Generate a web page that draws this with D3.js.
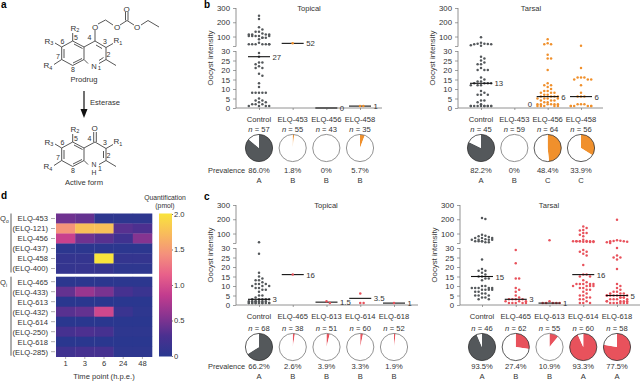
<!DOCTYPE html>
<html>
<head>
<meta charset='utf-8' />
<title>Prodrug oocyst panels</title>
<script src="https://d3js.org/d3.v7.min.js"></script>
<style>
body { margin:0; padding:0; background:#fff; }
svg { display:block; font-family:'Liberation Sans', Arial, sans-serif; opacity:0.999; }
text { fill:#333; }
</style>
</head>
<body>
<svg id="chart" width="640" height="382"></svg>
<script>

// dot values
var bTopControl = [246,223,165,150,134,134,122,115,115,115,115,104,104,104,104,104,92,92,92,80,57,45,45,45,45,45,45,45,29,27,24,24,23,22,21,21,18,17,13,11,8,8,8,8,8,5,4,4,3,3,2,2,2,1,1,1,1];
var bTop453 = [52];
var bTop456 = [];
var bTop458 = [1,1];
var bTarControl = [94,57,50,50,48,45,45,38,35,27,26,25,24,23,23,21,20,20,20,16,15,14,14,13,13,13,13,12,12,12,9,8,7,7,7,4,4,3,2,1,1,1,1,1,1,1,1,1,1,1];
var bTar453 = [];
var bTar456 = [80,52,45,45,28,26,26,20,13,12,12,11,10,9,9,8,8,8,7,7,6,6,6,6,5,5,5,5,4,4,4,3,3,2,2,2,2,2,2,1,1,1,1,1];
var bTar458 = [35,21,16,16,16,15,15,15,12,8,6,6,6,2,2,2,1,1,1,1,1,1];
var cTopControl = [38,27,17,15,14,13,13,12,11,11,11,10,10,10,9,9,8,8,7,5,5,4,3,3,3,3,3,2,2,2,2,2,2,2,1,1,1,1,1,1,1,1,1,1,1,1,1];
var cTop465 = [16];
var cTop613 = [2,1];
var cTop614 = [6,1,1];
var cTop618 = [1];
var cTarControl = [209,202,92,85,80,75,68,68,68,60,57,57,57,57,45,45,45,45,38,38,24,19,18,18,17,16,15,15,14,14,13,10,10,9,9,9,9,9,8,8,8,8,7,7,6,6,5,5,5,4,4,3,3];
var cTar465 = [29,22,14,14,9,8,7,5,4,3,3,3,3,2,2,2,1,1,1,1,1];
var cTar613 = [52,2,1,1,1,1,1];
var cTar614 = [150,138,125,122,103,103,92,80,57,48,45,45,45,45,45,45,45,42,42,40,40,29,28,28,27,26,21,16,16,15,15,13,12,11,11,11,11,11,10,10,10,10,9,9,8,8,7,6,5,5,4,4,3,3,2,1,1,1];
var cTar618 = [196,52,50,48,45,45,42,38,34,30,26,25,25,24,19,11,10,9,8,7,7,6,6,6,5,5,5,5,5,5,4,4,4,4,3,3,3,3,2,2,2,2,2,1,1,1,1,1,1];

var yTicks = [0,5,10,15,20,25,30,100,200,300];

var bCats = ['Control','ELQ-453','ELQ-456','ELQ-458'];
var cTopCats = ['Control','ELQ-465','ELQ-613','ELQ-614','ELQ-618'];

var bTopMedians = [27,52,0,1];
var bTarMedians = [13,null,6,6];
var cTopMedians = [3,16,1.5,3.5,1];
var cTarMedians = [15,3,1,16,5];

var bTopN = [57,55,43,35];
var bTarN = [45,59,64,56];
var cTopN = [68,38,51,60,52];
var cTarN = [46,62,55,60,58];

var bTopPrev = [86.0,1.8,0,5.7];
var bTarPrev = [82.2,0,48.4,33.9];
var cTopPrev = [66.2,2.6,3.9,3.3,1.9];
var cTarPrev = [93.5,27.4,10.9,93.3,77.5];

var bTopPrevText = ['86.0%','1.8%','0%','5.7%'];
var bTarPrevText = ['82.2%','0%','48.4%','33.9%'];
var cTopPrevText = ['66.2%','2.6%','3.9%','3.3%','1.9%'];
var cTarPrevText = ['93.5%','27.4%','10.9%','93.3%','77.5%'];

var bTopLetters = ['A','B','B','B'];
var bTarLetters = ['A','B','C','C'];
var cTopLetters = ['A','B','B','B','B'];
var cTarLetters = ['A','B','B','A','A'];

// heat map
var timePoints = ['1','3','6','24','48'];
var q0Names = ['ELQ-453','(ELQ-121)','ELQ-456','(ELQ-437)','ELQ-458','(ELQ-400)'];
var qiNames = ['ELQ-465','(ELQ-433)','ELQ-613','(ELQ-432)','ELQ-614','(ELQ-250)','ELQ-618','(ELQ-285)'];
var q0Values = [
  [.45,.4,.05,.05,.05],
  [1.45,1.75,1.75,.35,.3],
  [.9,.45,.35,.2,.55],
  [.03,.03,.03,.03,.03],
  [.1,.1,2,.1,.1],
  [.1,.12,.12,.05,.05]
];
var qiValues = [
  [.03,.03,.03,.03,.03],
  [.4,.65,.5,.25,.15],
  [.02,.02,.02,.02,.02],
  [.35,.4,.95,.15,.05],
  [.02,.02,.02,.02,.02],
  [.25,.3,.25,.05,.05],
  [.02,.02,.02,.02,.02],
  [.2,.25,.25,.05,.05]
];

var DARK = '#54585b', ORANGE = '#f0902c', RED = '#e8525c';
var svg = d3.select('#chart');

function label(g, x, y, str, size, anchor, weight) {
  return g.append('text').attr('x', x).attr('y', y)
    .attr('font-size', size || 8)
    .attr('text-anchor', anchor || 'middle')
    .attr('font-weight', weight || null)
    .attr('fill', '#333').attr('stroke', 'none')
    .text(str);
}

// spreads dots sideways so they dont sit on top of each other
// at most 7 slots wide, after that they are allowed to overlap
function swarm(values, y) {
  var placed = [];
  values.slice().sort(d3.descending).forEach(function(v, n) {
    var py = y(v), off = 0, found = false;
    for (var i = 0; i < 7; i++) {
      off = (i % 2 ? 1 : -1) * Math.ceil(i / 2) * 3.4;
      var hit = placed.some(function(p) {
        return Math.hypot(p.x - off, p.y - py) < 2.8;
      });
      if (!hit) { found = true; break; }
    }
    if (!found) off = ((n % 7) - 3) * 3.4;
    placed.push({x: off, y: py});
  });
  return placed;
}

function dotPanel(o) {
  var g = svg.append('g');
  var y = d3.scaleLinear()
    .domain([0, 30, 30.001, 300])
    .range([o.top + 100, o.top + 43, o.top + 38.5, o.top]);
  var x = d3.scalePoint().domain(o.cats).range(o.xRange);

  // y axis, broken at 30
  var axis = g.append('g').attr('transform', 'translate(' + o.axisX + ',0)')
    .call(d3.axisLeft(y).tickValues(yTicks).tickSize(3).tickPadding(3).tickFormat(d3.format('d')));
  axis.select('.domain').remove();
  axis.selectAll('line').attr('stroke', '#777').attr('stroke-width', 0.7);
  axis.selectAll('text').attr('font-size', 7.8).attr('font-family', 'inherit').attr('fill', '#333');
  [[0, 30], [30.001, 300]].forEach(function(d) {
    g.append('line').attr('x1', o.axisX).attr('x2', o.axisX)
      .attr('y1', y(d[0])).attr('y2', y(d[1]))
      .attr('stroke', '#777').attr('stroke-width', 0.8);
  });
  g.append('line').attr('x1', o.axisX - 3).attr('x2', o.axisX)
    .attr('y1', y(30.001)).attr('y2', y(30.001))
    .attr('stroke', '#777').attr('stroke-width', 0.7);

  // x axis
  var xa = g.append('g').attr('transform', 'translate(0,' + y(0) + ')')
    .call(d3.axisBottom(x).tickSize(2).tickFormat(''));
  xa.select('.domain').attr('d', 'M' + o.axisX + ',0H' + o.axisEnd).attr('stroke', '#777').attr('stroke-width', 0.8);
  xa.selectAll('line').attr('stroke', '#777').attr('stroke-width', 0.7);

  label(g, o.titleX, o.top + 3, o.title, 7.6);
  g.append('text')
    .attr('transform', 'translate(' + (o.axisX - 23) + ',' + (y(30) + 7) + ') rotate(-90)')
    .attr('font-size', 7.8).attr('text-anchor', 'middle').text('Oocyst intensity');

  o.cats.forEach(function(c, i) {
    var cx = x(c);
    var col = i === 0 ? DARK : o.color;
    var drawDots = function() {
      g.selectAll(null).data(swarm(o.values[i], y)).enter().append('circle')
        .attr('cx', function(d) { return cx + d.x; })
        .attr('cy', function(d) { return d.y; })
        .attr('r', 1.25).attr('fill', col);
    };
    // big groups go under the median bar, the lone dots sit on top of it
    if (o.values[i].length > 3) drawDots();

    var m = o.medians[i];
    if (m !== null) {
      g.append('line').attr('x1', cx - 11).attr('x2', cx + 11)
        .attr('y1', y(m)).attr('y2', y(m))
        .attr('stroke', m === 0 ? '#555' : '#111').attr('stroke-width', m === 0 ? 1.8 : 1.1);
      label(g, cx + 13.5, y(m) + 3, m, 7.8, 'start');
    } else {
      label(g, cx + 13.5, y(0) - 1, 0, 7.8, 'start');
    }
    if (o.values[i].length <= 3) drawDots();

    var ty = o.labelY;
    label(g, cx, ty, c, 7.6);
    var nt = label(g, cx, ty + o.nDy, '', 7.6);
    nt.append('tspan').attr('font-style', 'italic').text('n');
    nt.append('tspan').text(' = ' + o.ns[i]);

    // prevalence pie
    var pieG = g.append('g').attr('transform', 'translate(' + cx + ',' + (ty + o.pieDy) + ')');
    var pie = d3.pie().sort(null)([o.prev[i], 100 - o.prev[i]]);
    var arc = d3.arc().innerRadius(0).outerRadius(13.6);
    pieG.selectAll('path').data(pie).enter().append('path')
      .attr('d', arc).attr('fill', function(d, j) { return j === 0 ? col : '#fff'; });
    pieG.append('circle').attr('r', 13.6).attr('fill', 'none')
      .attr('stroke', o.prev[i] > 20 ? '#333' : '#777').attr('stroke-width', 0.8);

    label(g, cx, ty + o.prevDy, o.prevText[i], 7.6);
    label(g, cx, ty + o.prevDy + 10, o.letters[i], 7.6);
  });

  if (o.showPrevalence) label(g, o.axisX + 9, o.labelY + o.prevDy, 'Prevalence', 7.4, 'end');
}

var bRows = {labelY: 121.5, nDy: 10.6, pieDy: 26.5, prevDy: 51.5};
var cRows = {labelY: 319, nDy: 11.7, pieDy: 28, prevDy: 50};

dotPanel(Object.assign({top: 8, axisX: 236, axisEnd: 382, xRange: [259, 360], cats: bCats, title: 'Topical', titleX: 309, color: ORANGE,
  values: [bTopControl, bTop453, bTop456, bTop458], medians: bTopMedians, ns: bTopN, prev: bTopPrev, prevText: bTopPrevText, letters: bTopLetters, showPrevalence: true}, bRows));
dotPanel(Object.assign({top: 8, axisX: 458, axisEnd: 603, xRange: [481, 581], cats: bCats, title: 'Tarsal', titleX: 531, color: ORANGE,
  values: [bTarControl, bTar453, bTar456, bTar458], medians: bTarMedians, ns: bTarN, prev: bTarPrev, prevText: bTarPrevText, letters: bTarLetters}, bRows));
dotPanel(Object.assign({top: 205, axisX: 236, axisEnd: 418, xRange: [259, 394], cats: cTopCats, title: 'Topical', titleX: 326, color: RED,
  values: [cTopControl, cTop465, cTop613, cTop614, cTop618], medians: cTopMedians, ns: cTopN, prev: cTopPrev, prevText: cTopPrevText, letters: cTopLetters, showPrevalence: true}, cRows));
dotPanel(Object.assign({top: 205, axisX: 460, axisEnd: 640, xRange: [482, 617], cats: cTopCats, title: 'Tarsal', titleX: 549, color: RED,
  values: [cTarControl, cTar465, cTar613, cTar614, cTar618], medians: cTarMedians, ns: cTarN, prev: cTarPrev, prevText: cTarPrevText, letters: cTarLetters}, cRows));

// panel letters
[['a',1,8],['b',204,8],['c',204,200],['d',1,199]].forEach(function(d) {
  label(svg, d[1], d[2], d[0], 10, 'start', 'bold').attr('fill', '#000').style('fill', '#000');
});

//----------------------------------------------------------------
// heat map, panel d
var heat = svg.append('g');
var colorStops = ['#28388f','#4a3090','#8a3490','#c23c8e','#e8608a','#f4907c','#f8bb5c','#f9e43c'];
var heatColor = d3.scaleLinear()
  .domain(d3.range(colorStops.length).map(function(i) { return i * 2 / (colorStops.length - 1); }))
  .range(colorStops);
var hx = d3.scaleBand().domain(timePoints).range([56, 152]);
var y0 = d3.scaleBand().domain(q0Names).range([213.5, 273.5]);
var y1 = d3.scaleBand().domain(qiNames).range([276.7, 356.7]);

function heatRows(names, values, yScale) {
  names.forEach(function(name, r) {
    heat.selectAll(null).data(values[r]).enter().append('rect')
      .attr('x', function(d, i) { return hx(timePoints[i]); })
      .attr('y', yScale(name))
      .attr('width', hx.bandwidth() + 0.3)
      .attr('height', yScale.bandwidth() + 0.3)
      .attr('fill', function(d) { return heatColor(d); });
    label(heat, 48, yScale(name) + yScale.bandwidth() / 2 + 2.8, name, 7.6, 'end');
    heat.append('line').attr('x1', 51).attr('x2', 55)
      .attr('y1', yScale(name) + yScale.bandwidth() / 2).attr('y2', yScale(name) + yScale.bandwidth() / 2)
      .attr('stroke', '#777').attr('stroke-width', 0.6);
  });
}
heatRows(q0Names, q0Values, y0);
heatRows(qiNames, qiValues, y1);

heat.append('g').attr('transform', 'translate(0,357)')
  .call(d3.axisBottom(hx).tickSize(2).tickPadding(2))
  .call(function(a) {
    a.select('.domain').remove();
    a.selectAll('line').attr('stroke', '#777').attr('stroke-width', 0.6);
    a.selectAll('text').attr('font-size', 7.6).attr('font-family', 'inherit').attr('fill', '#333');
  });
label(heat, 104, 379, 'Time point (h.p.e.)', 7.6);

[[y0.range(), 'Q', 'o', 221], [y1.range(), 'Q', 'i', 285]].forEach(function(d) {
  heat.append('line').attr('x1', 11).attr('x2', 11).attr('y1', d[0][0]).attr('y2', d[0][1] - 1)
    .attr('stroke', '#333').attr('stroke-width', 0.8);
  var t = label(heat, 0, d[3], d[1], 7.6, 'start');
  t.append('tspan').attr('font-size', 5).attr('dy', 1.5).text(d[2]);
});

// colour bar
var defs = svg.append('defs');
var grad = defs.append('linearGradient').attr('id', 'bar').attr('x1', 0).attr('x2', 0).attr('y1', 1).attr('y2', 0);
colorStops.forEach(function(c, i) {
  grad.append('stop').attr('offset', i / (colorStops.length - 1)).attr('stop-color', c);
});
heat.append('rect').attr('x', 159).attr('y', 213.5).attr('width', 13).attr('height', 143).attr('fill', 'url(#bar)');
var barY = d3.scaleLinear().domain([0, 2]).range([356, 214]);
var barAxis = heat.append('g').attr('transform', 'translate(172,0)')
  .call(d3.axisRight(barY).tickValues([0,.5,1,1.5,2]).tickSize(1).tickPadding(1)
    .tickFormat(function(d) { return d === 0 ? '0' : d3.format('.1f')(d); }));
barAxis.select('.domain').remove();
barAxis.selectAll('line').attr('stroke', '#777');
barAxis.selectAll('text').attr('font-size', 7.6).attr('font-family', 'inherit').attr('fill', '#333');
label(heat, 165, 199.5, 'Quantification', 6.8);
label(heat, 165, 207.5, '(pmol)', 6.8);

//----------------------------------------------------------------
// panel a, the two structures
var chem = svg.append('g').attr('stroke', '#444').attr('stroke-width', 0.9).attr('fill', 'none');
var ringBonds = [
  [95,41,106,47.5],[106,47.5,106,59.5],[106,59.5,99,63.5],[88,63.5,84,59.5],[84,59.5,84,47],[84,47,95,41],
  [84,47,72.7,41],[72.7,41,61.7,47],[61.7,47,61.7,59.5],[61.7,59.5,72.7,65.5],[72.7,65.5,84,59.5],
  // second strokes of the double bonds
  [74,44,82.5,48.5],[64,49,64,58],[73,63,82,58.5],
  // R groups and methyl
  [106,47.5,113,43.5],[106,59.5,116,65.5],[72.7,41,72.7,33],[61.7,47,55,43],[61.7,59.5,54,64.5]
];
var prodrugOnly = [
  [102,48.5,96,45],[103.5,57.5,99,60.5],
  [95,41,95,30],[98,24,105.5,20],[105.5,20,113,25],[120,25,127,20.5],[125.5,20.5,125.5,12],[128,20.5,128,12],
  [127,20.5,134,25],[141,25,148,20.5],[148,20.5,159,27]
];
var activeOnly = [
  [103.5,50,103.5,57],[93.7,41,93.7,31],[96.3,41,96.3,31]
];
function bonds(list, dy) {
  list.forEach(function(b) {
    chem.append('line').attr('x1', b[0]).attr('y1', b[1] + dy).attr('x2', b[2]).attr('y2', b[3] + dy);
  });
}
bonds(ringBonds, 0);
bonds(ringBonds, 101);
bonds(prodrugOnly, 0);
bonds(activeOnly, 101);

// atom labels
var atomLabels = [[76,39.5,'5'],[89.5,40,'4'],[105,43.5,'3'],[108.5,57,'2'],[62.5,44,'6'],[58,59,'7'],[73,72,'8']];
function atoms(dy) {
  atomLabels.forEach(function(a) { label(svg, a[0], a[1] + dy, a[2], 7); });
  [[118,43,'R','1'],[75,30.5,'R','2'],[49,43.5,'R','3'],[48,68,'R','4']].forEach(function(r) {
    var t = label(svg, r[0], r[1] + dy, r[2], 8);
    t.append('tspan').attr('font-size', 5.5).attr('dy', 1.5).text(r[3]);
  });
}
atoms(0);
atoms(101);
label(svg, 94, 68.5, 'N', 7.6);
label(svg, 99.5, 70, '1', 6);
label(svg, 94, 166.5, 'N', 6.8);
label(svg, 94, 174.5, 'H', 6.8);
label(svg, 100, 171, '1', 7);
label(svg, 95, 30, 'O', 8);
label(svg, 117, 30, 'O', 8);
label(svg, 137, 30, 'O', 8);
label(svg, 126.5, 12, 'O', 8);
label(svg, 94.5, 131, 'O', 8);
label(svg, 84, 82, 'Prodrug', 7.6);
label(svg, 84, 185, 'Active form', 7.6);
label(svg, 90, 104.5, 'Esterase', 7.6, 'start');

svg.append('line').attr('x1', 84).attr('x2', 84).attr('y1', 91).attr('y2', 112).attr('stroke', '#111').attr('stroke-width', 1.2);
svg.append('path').attr('d', 'M80.5,109L87.5,109L84,118Z').attr('fill', '#111');

</script>
</body>
</html>
